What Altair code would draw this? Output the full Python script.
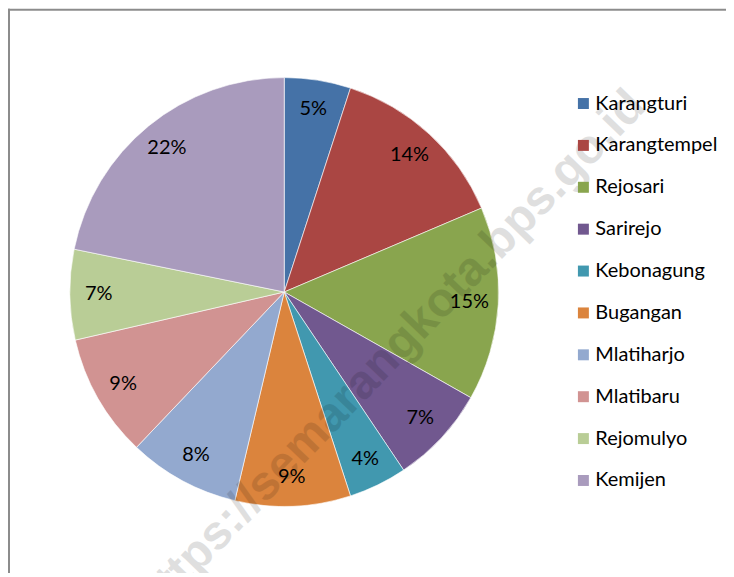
import altair as alt
import pandas as pd

categories = ["Karangturi", "Karangtempel", "Rejosari", "Sarirejo", "Kebonagung",
              "Bugangan", "Mlatiharjo", "Mlatibaru", "Rejomulyo", "Kemijen"]
shares = [5.0, 13.6, 14.6, 7.4, 4.4, 8.7, 8.4, 9.3, 6.8, 21.8]
colors = ["#4572A7", "#AA4643", "#89A54E", "#71588F", "#4198AF",
          "#DB843D", "#93A9CF", "#D19392", "#B9CD96", "#A99BBD"]
watermark = ["https://semarangkota.bps.go.id"]

df = pd.DataFrame({"wilayah": categories, "persen": shares, "urutan": list(range(len(categories)))})

CX, CY, R = 277, 284, 215
FONT = "Lato"

pie = alt.Chart(df).mark_arc(outerRadius=R, stroke="white", strokeWidth=0.6).encode(
    theta=alt.Theta("persen:Q", stack=True),
    order=alt.Order("urutan:Q"),
    color=alt.Color(
        "wilayah:N",
        scale=alt.Scale(domain=categories, range=colors),
        legend=alt.Legend(
            title=None, orient="none", legendX=567, legendY=85,
            symbolType="square", symbolSize=121, symbolStrokeWidth=0,
            labelFontSize=20, labelFont=FONT, labelColor="black",
            rowPadding=22, labelOffset=2, padding=0,
        ),
    ),
    x=alt.value(CX),
    y=alt.value(CY),
)

labels = alt.Chart(df).transform_calculate(
    label="round(datum.persen) + '%'"
).mark_text(radius=186, fontSize=20, font=FONT, color="black").encode(
    theta=alt.Theta("persen:Q", stack=True),
    order=alt.Order("urutan:Q"),
    text=alt.Text("label:N"),
    x=alt.value(CX),
    y=alt.value(CY),
)

wm = alt.Chart(pd.DataFrame({"t": watermark})).mark_text(
    angle=314, fontSize=48, font="Liberation Sans", fontWeight="bold",
    color="#000000", opacity=0.12, align="center", baseline="middle",
).encode(x=alt.value(384), y=alt.value(346), text="t:N")

border_left = alt.Chart(pd.DataFrame({"a": [0]})).mark_rule(color="#8c8c8c", strokeWidth=2).encode(
    x=alt.value(1), y=alt.value(0), y2=alt.value(700))
border_top = alt.Chart(pd.DataFrame({"a": [0]})).mark_rule(color="#8c8c8c", strokeWidth=2).encode(
    x=alt.value(0), x2=alt.value(900), y=alt.value(1))

chart = alt.layer(border_left, border_top, pie, labels, wm).properties(
    width=720, height=565, padding=0, autosize="none"
).configure_view(stroke=None)

chart.save("out.html", embed_options={"renderer": "svg", "actions": False})
